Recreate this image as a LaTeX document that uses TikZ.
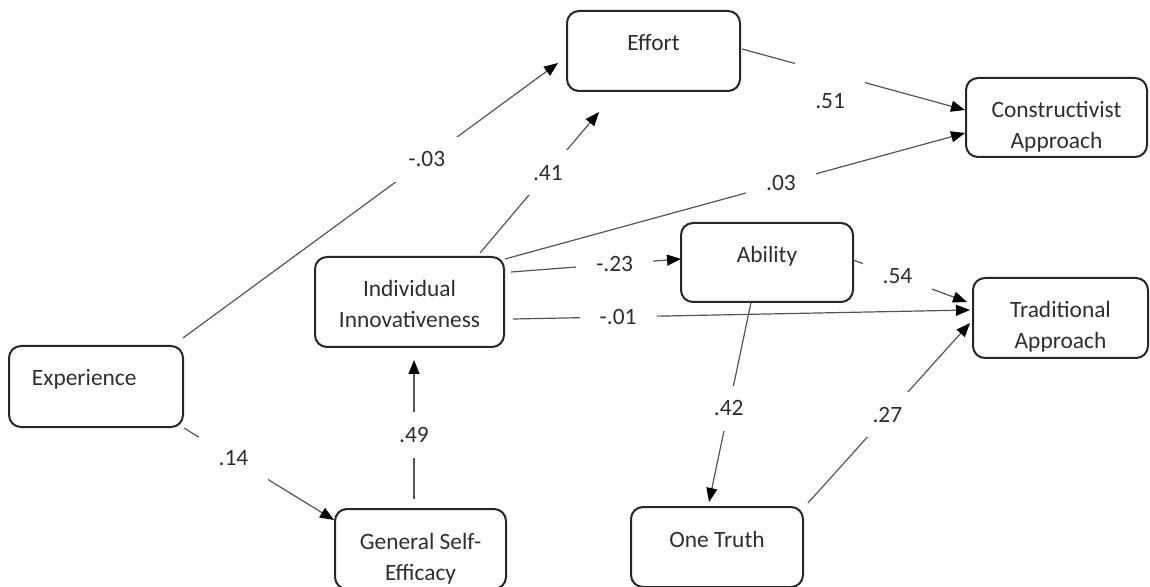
\documentclass[tikz,border=0pt]{standalone}
\usepackage{fontspec}
\setmainfont{Carlito}
\usepackage{xcolor}
\usetikzlibrary{arrows.meta}
\definecolor{boxline}{HTML}{262626}
\definecolor{edgeline}{HTML}{555555}
\definecolor{txt}{HTML}{2E2E2E}
\tikzset{
	var/.style={draw=boxline, line width=1pt, rounded corners=6pt, text=txt,
		align=center, inner sep=0pt, outer sep=0pt, text height=20pt,
		font=\fontsize{11.7pt}{15.5pt}\selectfont},
	twoline/.style={text height=35.5pt},
	link/.style={draw=edgeline, line width=0.6pt, -{Triangle[length=7pt,width=5.5pt,color=black]}},
	coef/.style={fill=white, text=txt, inner xsep=10pt, inner ysep=7.5pt,
		font=\fontsize{11.7pt}{14pt}\selectfont},
}
\begin{document}
\begin{tikzpicture}[x=0.5pt, y=-0.5pt]
		\useasboundingbox (0,0) rectangle (1150,587);
		\node[var, minimum width=86.5pt, text depth=20pt] (eff) at (653.5, 51) {Effort};
		\node[var, twoline, minimum width=90.5pt, text depth=4pt] (con) at (1056.5, 117.5) {Constructivist\\Approach};
		\node[var, twoline, minimum width=94.5pt, text depth=9.5pt] (inn) at (409.5, 302) {Individual\\Innovativeness};
		\node[var, minimum width=86pt, text depth=19.5pt] (abi) at (767, 262.5) {Ability};
		\node[var, twoline, minimum width=87.5pt, text depth=4.5pt] (tra) at (1060.5, 318) {Traditional\\Approach};
		\node[var, align=left, text width=64pt, inner xsep=11.5pt, text depth=20.5pt] (exp) at (96, 386.5) {Experience};
		\node[var, twoline, minimum width=85.5pt, text depth=4.5pt] (gse) at (420.5, 549) {General Self-\\Efficacy};
		\node[var, minimum width=86pt, text depth=20pt] (one) at (717, 547) {One Truth};
		\begin{scope}[link]
			\draw ([shift={(0,-8)}]exp.north east) -- ([shift={(-9,12)}]eff.west) node[coef, pos=0.65] {-.03};
			\draw ([shift={(-24,-4)}]inn.north east) -- ([shift={(32,21)}]eff.south west) node[coef, pos=0.57] {.41};
			\draw ([shift={(2,-2)}]eff.east) -- ([shift={(-1,-7.5)}]con.west)
				node[coef, pos=0.395, inner ysep=0pt, minimum width=35pt, text height=35.5pt, text depth=0pt] {.51};
			\draw ([shift={(1,2)}]inn.north east) -- ([shift={(-1,15.5)}]con.west) node[coef, pos=0.6] {.03};
			\draw ([shift={(7,-30)}]inn.east) -- ([shift={(0,-3.5)}]abi.west) node[coef, pos=0.61] {-.23};
			\draw ([shift={(9,17)}]inn.east) -- ([shift={(-3,-8)}]tra.west) node[coef, pos=0.23] {-.01};
			\draw ([shift={(0,-2.5)}]abi.east) -- ([shift={(-6,-16)}]tra.west) node[coef, pos=0.39] {.54};
			\draw ([shift={(-16,0.5)}]abi.south) -- ([shift={(-8,-5)}]one.north) node[coef, pos=0.53] {.42};
			\draw ([shift={(5,-4)}]one.north east) -- ([shift={(-3,5)}]tra.west) node[coef, pos=0.49] {.27};
			\draw ([shift={(1,1)}]exp.south east) -- ([shift={(-1,11)}]gse.north west) node[coef, pos=0.33] {.14};
			\draw ([shift={(-6.5,-10)}]gse.north) -- ([shift={(4.5,13)}]inn.south) node[coef, pos=0.46] {.49};
		\end{scope}
	\end{tikzpicture}
\end{document}
